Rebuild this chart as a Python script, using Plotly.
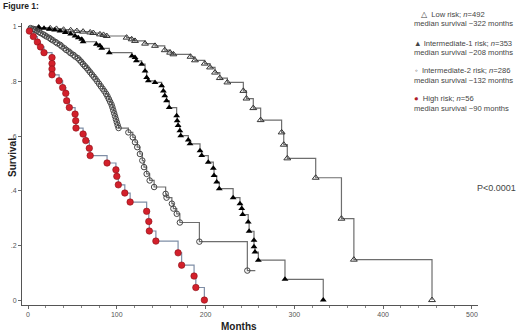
import plotly.graph_objects as go

# ---- data (months, survival) ----
low_m = [12, 25, 32, 40, 48, 55, 62, 70, 73.5, 81, 85, 88.6, 111, 116.7, 120.5, 131.8, 143, 154, 160, 163.7,
         183, 188, 199, 205, 210.6, 216, 224.5, 242.5, 246, 253.7, 262, 285.6, 288, 292, 324, 353, 367, 455]
low_s = [0.998, 0.995, 0.993, 0.99, 0.988, 0.985, 0.983, 0.98, 0.978, 0.973, 0.971, 0.967, 0.961, 0.955, 0.949,
         0.939, 0.931, 0.915, 0.906, 0.9, 0.891, 0.878, 0.866, 0.852, 0.833, 0.813, 0.797, 0.766, 0.738, 0.703,
         0.659, 0.614, 0.569, 0.519, 0.448, 0.298, 0.148, 0.0]

int1_m = [12, 18, 24, 30, 36, 42, 48, 53, 56.6, 60.5, 62, 77, 81, 83, 91.5, 117, 120.5, 122, 128, 131.8, 133.6,
          135.5, 143, 150.5, 152.4, 154, 156, 159, 167.4, 168, 169, 171, 172, 180.5, 182.4, 193.7, 195.6, 203,
          208.7, 209.5, 212.5, 215.4, 231, 238.7, 240.7, 241.7, 248, 249, 254.5, 254.5, 255.6, 259.4, 289.4, 332.5]
int1_s = [0.998, 0.995, 0.992, 0.989, 0.985, 0.98, 0.974, 0.967, 0.961, 0.955, 0.946, 0.937, 0.931, 0.922, 0.906,
          0.894, 0.888, 0.876, 0.864, 0.839, 0.815, 0.803, 0.797, 0.785, 0.766, 0.748, 0.73, 0.705, 0.675, 0.657,
          0.639, 0.62, 0.602, 0.586, 0.572, 0.547, 0.529, 0.505, 0.483, 0.456, 0.432, 0.408, 0.375, 0.353, 0.335,
          0.313, 0.286, 0.252, 0.219, 0.195, 0.176, 0.146, 0.076, 0.0]

int2_m = [3, 6, 8, 10, 12, 14, 17, 19, 21, 24, 26, 28, 31, 33, 36, 38, 41, 43, 46, 48, 51, 53, 56, 58, 60, 62,
          64, 66, 68, 70, 72, 74, 76, 78, 80, 82, 84, 86, 88, 89.5, 91, 92.5, 94, 95, 96, 97, 98, 99, 100, 101, 102,
          113, 118, 120.5, 123, 126, 128.7, 130.6, 133.6, 137, 142, 155, 156, 162, 163.7, 167.5, 171, 193, 247]
int2_s = [0.996, 0.993, 0.99, 0.986, 0.982, 0.978, 0.973, 0.969, 0.965, 0.96, 0.955, 0.951, 0.945, 0.94, 0.935,
          0.929, 0.922, 0.916, 0.91, 0.904, 0.898, 0.892, 0.886, 0.879, 0.872, 0.864, 0.857, 0.85, 0.842, 0.834,
          0.826, 0.818, 0.81, 0.801, 0.792, 0.783, 0.774, 0.765, 0.755, 0.746, 0.736, 0.726, 0.716, 0.706, 0.695,
          0.684, 0.673, 0.662, 0.651, 0.64, 0.63, 0.614, 0.596, 0.578, 0.56, 0.535, 0.511, 0.487, 0.462, 0.438,
          0.414, 0.389, 0.375, 0.353, 0.335, 0.316, 0.284, 0.214, 0.108]
int2_last_followup = 256

high_m = [1.5, 6, 10.5, 14, 18, 27, 27, 27, 27, 35, 39, 42.5, 43.5, 46.5, 53, 53.7, 54, 62, 65, 69, 70, 89, 99,
          100, 101.7, 109, 115, 133.6, 136, 136.6, 144, 169, 173, 187, 189, 198.6]
high_s = [0.985, 0.965, 0.945, 0.927, 0.906, 0.888, 0.866, 0.846, 0.825, 0.803, 0.778, 0.757, 0.73, 0.705, 0.681,
          0.657, 0.63, 0.608, 0.584, 0.556, 0.529, 0.502, 0.477, 0.453, 0.422, 0.392, 0.359, 0.325, 0.288, 0.253,
          0.216, 0.173, 0.128, 0.088, 0.046, 0.0]

x_ticks = [0, 100, 200, 300, 400, 500]
y_ticks = [0, 0.2, 0.4, 0.6, 0.8, 1]
y_ticktext = ["0", ".2", ".4", ".6", ".8", "1"]

FONT = "Liberation Sans, Arial, sans-serif"

fig = go.Figure()

groups = [
    (low_m, low_s, None, dict(symbol="triangle-up-open", size=6, color="#333", line=dict(width=1, color="#333")), "#6e6e6e"),
    (int1_m, int1_s, None, dict(symbol="triangle-up", size=6, color="#000"), "#6e6e6e"),
    (int2_m, int2_s, int2_last_followup, dict(symbol="circle-open", size=5.5, color="#444", line=dict(width=1, color="#444")), "#6e6e6e"),
    (high_m, high_s, None, dict(symbol="circle", size=6.5, color="#d3202b", line=dict(width=0.6, color="#8a1018")), "#7f8ea6"),
]

for m, s, last, mk, lc in groups:
    lx = [0] + list(m)
    ly = [1.0] + list(s)
    if last is not None:
        lx.append(last)
        ly.append(s[-1])
    fig.add_trace(go.Scatter(x=lx, y=ly, mode="lines", line=dict(shape="hv", color=lc, width=1.2),
                             hoverinfo="skip", showlegend=False))
for m, s, last, mk, lc in groups:
    fig.add_trace(go.Scatter(x=m, y=s, mode="markers", marker=mk, showlegend=False))

# layout in px
L, R, T, B = 22, 478, 23, 305
W, H = 520, 332


def px(x):
    return (x - L) / (R - L)


def py(y):
    return (B - y) / (B - T)


fig.update_layout(
    width=W, height=H,
    margin=dict(l=L, r=W - R, t=T, b=H - B),
    paper_bgcolor="white", plot_bgcolor="white",
    font=dict(family=FONT, color="#333"),
    xaxis=dict(range=[-6.8, 506.8], tickvals=x_ticks, ticks="outside", ticklen=3, tickcolor="#666",
               showline=True, linecolor="#555", linewidth=1, showgrid=False, zeroline=False,
               tickfont=dict(size=7, color="#555"),
               minor=dict(dtick=20, tick0=0, ticks="outside", ticklen=2, tickcolor="#888")),
    yaxis=dict(range=[-0.018, 1.0146], tickvals=y_ticks, ticktext=y_ticktext, ticks="outside", ticklen=3,
               tickcolor="#666", showline=True, linecolor="#555", linewidth=1, showgrid=False, zeroline=False,
               tickfont=dict(size=7, color="#555")),
)

ann = []
ann.append(dict(text="<b>Figure 1:</b>", x=px(1), y=py(6), xanchor="left", yanchor="middle",
                font=dict(size=8.5, color="#222")))
ann.append(dict(text="<b>Survival</b>", x=px(12), y=py(158), textangle=-90, xanchor="center", yanchor="middle",
                font=dict(size=10, color="#222")))
ann.append(dict(text="<b>Months</b>", x=px(239), y=py(326), xanchor="center", yanchor="middle",
                font=dict(size=10, color="#222")))
ann.append(dict(text="P<0.0001", x=px(475), y=py(188), xanchor="left", yanchor="middle",
                font=dict(size=9, color="#444")))

legend_lines = [
    ("\u25b3  Low risk; <i>n</i>=492", 419, 15),
    ("median survival ~322 months", 412, 24),
    ("\u25b2 Intermediate-1 risk; <i>n</i>=353", 412, 43),
    ("median survival ~208 months", 412, 52),
    ("\u25e6  Intermediate-2 risk; <i>n</i>=286", 413, 70),
    ("median survival ~132 months", 412, 80),
    ("<span style='color:#b01c2a'>\u25cf</span>  High risk; <i>n</i>=56", 412, 98),
    ("median survival ~90 months", 412, 108),
]
for t, x, y in legend_lines:
    ann.append(dict(text=t, x=px(x), y=py(y), xanchor="left", yanchor="middle",
                    font=dict(size=7.6, color="#444")))

for a in ann:
    a.update(xref="paper", yref="paper", showarrow=False)
fig.update_layout(annotations=ann)

fig.write_html("out.html", config={"displayModeBar": False})

# remove the browser's default 8px page margin so the figure sits at the window's corner
with open("out.html", encoding="utf-8") as f:
    html = f.read()
html = html.replace("<head>", "<head><style>html,body{margin:0;padding:0;overflow:hidden;}</style>", 1)
with open("out.html", "w", encoding="utf-8") as f:
    f.write(html)
